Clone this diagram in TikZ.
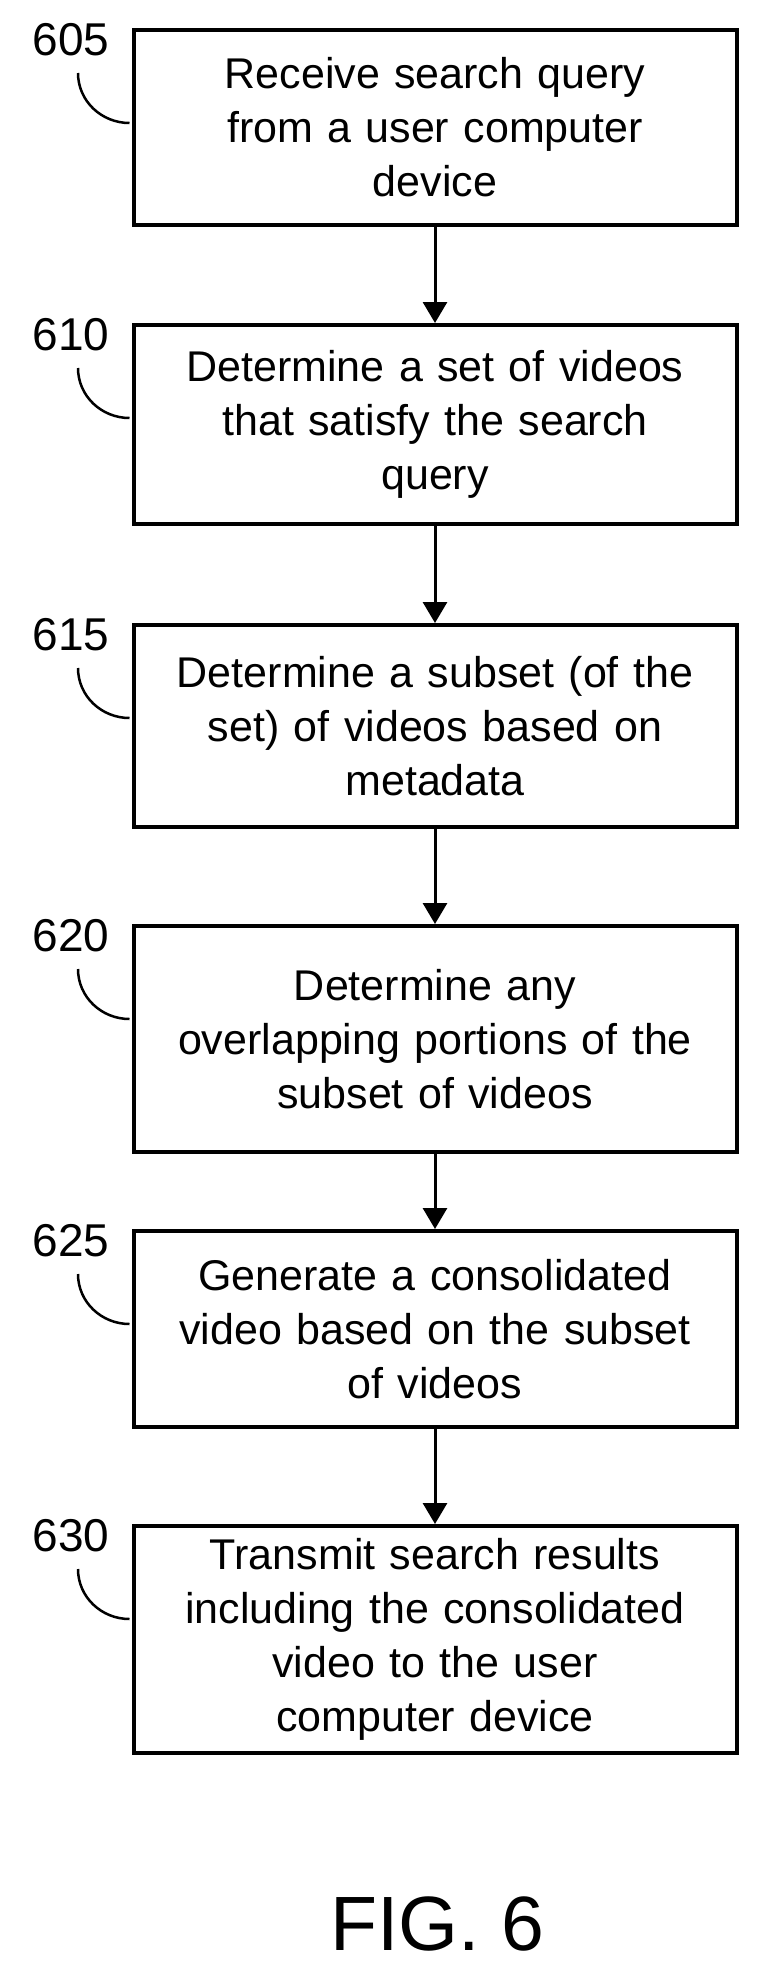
\documentclass[tikz,border=0pt]{standalone}
\usepackage{fontspec}
\setmainfont{Liberation Sans}
\usetikzlibrary{arrows.meta}
\tikzset{>={Triangle[length=21pt,width=24pt]}}
\tikzset{
  stepbox/.style={draw, line width=4pt, minimum width=603pt, align=center,
    text width=590pt, font=\fontsize{43}{54}\selectfont, inner sep=0pt},
  lbl/.style={font=\fontsize{46}{48}\selectfont, inner sep=0pt},
  flow/.style={line width=3pt, ->},
  lead/.style={line width=2.5pt}
}
\begin{document}
\begin{tikzpicture}[x=1pt,y=-1pt]
\useasboundingbox (0,0) rectangle (758,1974);

% steps
\node[stepbox, minimum height=195pt] (s605) at (435,127.5) {Receive search query\\from a user computer\\device};
\node[stepbox, minimum height=199pt] (s610) at (435,424.5) {Determine a set of videos\\that satisfy the search\\query};
\node[stepbox, minimum height=202pt] (s615) at (435,726) {Determine a subset (of the\\set) of videos based on\\metadata};
\node[stepbox, minimum height=226pt] (s620) at (435,1039) {Determine any\\overlapping portions of the\\subset of videos};
\node[stepbox, minimum height=196pt] (s625) at (435,1329) {Generate a consolidated\\video based on the subset\\of videos};
\node[stepbox, minimum height=227pt] (s630) at (435,1639.5) {Transmit search results\\including the consolidated\\video to the user\\computer device};

% arrows
\draw[flow] (s605) -- (s610);
\draw[flow] (s610) -- (s615);
\draw[flow] (s615) -- (s620);
\draw[flow] (s620) -- (s625);
\draw[flow] (s625) -- (s630);

% reference numbers
\foreach \n/\t in {s605/605, s610/610, s615/615, s620/620, s625/625, s630/630}{
  \node[lbl] (l\t) at ([shift={(-364pt,-12pt)}]\n.north) {\t};
  \draw[lead] ([shift={(-357pt,-45pt)}]\n.north) to[out=-90,in=180] ([shift={(-2pt,-95pt)}]\n.north west);
}

\node[font=\fontsize{77}{80}\selectfont, inner sep=0pt] (fig) at (437,1924) {FIG. 6};
\end{tikzpicture}
\end{document}
